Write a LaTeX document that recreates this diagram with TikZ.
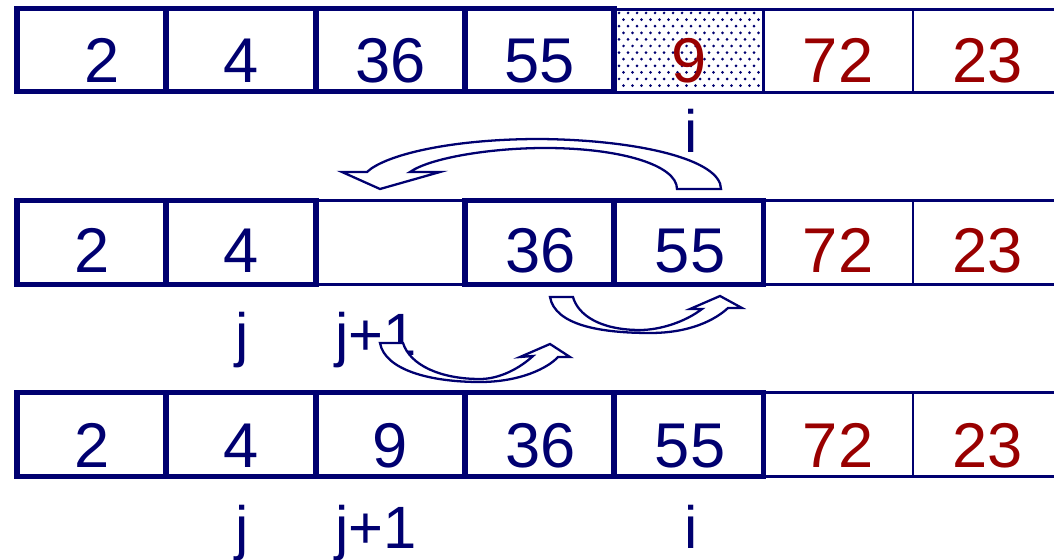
\documentclass[tikz,border=0pt]{standalone}
\usepackage{fontspec}
\setmainfont{Liberation Sans}
\definecolor{navy}{RGB}{0,0,112}
\definecolor{dred}{RGB}{153,0,0}
\begin{document}
\begin{tikzpicture}[x=0.02cm,y=-0.02cm,
  thickbox/.style={draw=navy,line width=3.4pt},
  thinbox/.style={draw=navy,line width=1.2pt},
  num/.style={anchor=base,inner sep=0pt,text=navy,font=\fontsize{36}{40}\selectfont},
  numred/.style={num,text=dred},
  lbl/.style={anchor=base,inner sep=0pt,text=navy,font=\fontsize{34}{38}\selectfont},
  blockarrow/.style={draw=navy,fill=white,line width=1.3pt,line join=miter}]
\useasboundingbox (0,0) rectangle (1054,560);
% row 1: dotted cell for the key
\foreach \r in {0,...,11}
  \foreach \c in {0,...,15}
    \fill[navy] ({619+9*\c+4.5*mod(\r,2)},{13+6.6*\r}) circle (0.85pt);
\draw[thinbox] (614.2,9.5) rectangle (1062,92.5);
\draw[thinbox] (763.5,9.5) -- (763.5,92.5) (912.8,9.5) -- (912.8,92.5);
\draw[thickbox] (17,8.5) rectangle (614.2,91.5);
\draw[thickbox] (166.3,8.5) -- (166.3,91.5) (315.6,8.5) -- (315.6,91.5)
  (464.9,8.5) -- (464.9,91.5);
\node[num] (r1a) at (102,83) {2};
\node[num] (r1b) at (240.6,83) {4};
\node[num] (r1c) at (390.2,83) {36};
\node[num] (r1d) at (539.5,83) {55};
\node[numred] (r1e) at (689,83) {9};
\node[numred] (r1f) at (838.1,83) {72};
\node[numred] (r1g) at (987.5,83) {23};
\node[lbl] (i1) at (691,153) {i};
% row 2: gap at j+1
\draw[thinbox] (17,200.5) rectangle (1062,284.5);
\draw[thinbox] (912.8,200.5) -- (912.8,284.5);
\draw[thickbox] (17,200.5) rectangle (315.6,284.5);
\draw[thickbox] (166.3,200.5) -- (166.3,284.5);
\draw[thickbox] (464.9,200.5) rectangle (763.5,284.5);
\draw[thickbox] (614.2,200.5) -- (614.2,284.5);
\node[num] (r2a) at (91.6,273) {2};
\node[num] (r2b) at (240.6,273) {4};
\node[num] (r2d) at (541,273) {36};
\node[num] (r2e) at (690,273) {55};
\node[numred] (r2f) at (838.1,273) {72};
\node[numred] (r2g) at (987.5,273) {23};
\node[lbl] (j2) at (242,356) {j};
\node[lbl] (jj2) at (376,356) {j+1};
% row 3: key inserted
\draw[thinbox] (17,392.5) rectangle (1062,476.5);
\draw[thinbox] (912.8,392.5) -- (912.8,476.5);
\draw[thickbox] (17,392.5) rectangle (763.5,476.5);
\foreach \x in {166.3,315.6,464.9,614.2}
  \draw[thickbox] (\x,392.5) -- (\x,476.5);
\node[num] (r3a) at (91.6,467) {2};
\node[num] (r3b) at (240.6,467) {4};
\node[num] (r3c) at (390.2,467) {9};
\node[num] (r3d) at (541,467) {36};
\node[num] (r3e) at (690,467) {55};
\node[numred] (r3f) at (838.1,467) {72};
\node[numred] (r3g) at (987.5,467) {23};
\node[lbl] (j3) at (242,548) {j};
\node[lbl] (jj3) at (376,548) {j+1};
\node[lbl] (i3) at (691,548) {i};
% curved block arrows
\draw[blockarrow] (721,189) .. controls (721,160) and (640,140) .. (540,139)
  .. controls (450,139) and (385,155) .. (367,172) -- (342,172) -- (380,189)
  -- (440,172) -- (410,172) .. controls (430,158) and (490,148) .. (545,148)
  .. controls (620,148) and (677,165) .. (677,189) -- cycle;
\draw[blockarrow] (550,297) .. controls (555,325) and (600,333) .. (650,333)
  .. controls (690,333) and (715,320) .. (728,308) -- (742,308) -- (720,296)
  -- (690,309) -- (702,309) .. controls (685,322) and (660,330) .. (640,330)
  .. controls (600,330) and (578,315) .. (573,297) -- cycle;
\draw[blockarrow] (380,343) .. controls (385,370) and (430,382) .. (480,382)
  .. controls (520,382) and (548,368) .. (558,357) -- (570,357) -- (550,344)
  -- (520,357) -- (533,356) .. controls (520,368) and (500,379) .. (480,379)
  .. controls (440,379) and (410,365) .. (403,343) -- cycle;
\end{tikzpicture}
\end{document}
